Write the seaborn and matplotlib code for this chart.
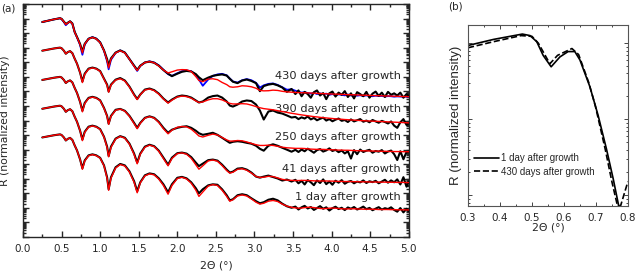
import numpy as np
import pandas as pd
import matplotlib
matplotlib.use('Agg')
import matplotlib.pyplot as plt
import seaborn as sns
from matplotlib.ticker import LogLocator, NullFormatter, MultipleLocator, FormatStrFormatter

sns.set_style('ticks')
plt.rcParams['font.family'] = ['DejaVu Sans']

# ---------------------------------------------------------------- data (a)
# 2Theta grid (deg)
two_theta = [0.25, 0.30, 0.35, 0.40, 0.45, 0.48, 0.50, 0.53, 0.555, 0.58, 0.61, 0.64,
             0.67, 0.70, 0.74, 0.77, 0.80, 0.85, 0.90,
             0.95, 1.00, 1.05, 1.09, 1.11, 1.14, 1.20, 1.26, 1.32, 1.38, 1.44,
             1.48, 1.52, 1.58, 1.64, 1.70, 1.76, 1.82, 1.88, 1.93, 2.00,
             2.06, 2.12, 2.18, 2.24, 2.28, 2.33, 2.40, 2.46,
             2.52, 2.58, 2.64, 2.68, 2.72, 2.78, 2.84, 2.90, 2.96, 3.02,
             3.07, 3.12, 3.18, 3.24, 3.30, 3.36, 3.42, 3.48,
             3.53, 3.57, 3.61, 3.65, 3.69, 3.73, 3.77, 3.81, 3.85, 3.89, 3.93, 3.97,
             4.01, 4.05, 4.09, 4.13, 4.17, 4.21, 4.25, 4.29, 4.33, 4.37, 4.41, 4.45,
             4.49, 4.53, 4.57, 4.61, 4.65, 4.69, 4.73, 4.77, 4.81, 4.85, 4.89, 4.93,
             4.97, 5.00]

samples = ['430 days after growth', '390 days after growth', '250 days after growth',
           '41 days after growth', '1 day after growth']
# vertical shift of each curve (decades)
offset_dec = [-1.23, -3.20, -5.21, -7.19, -9.16]

# log10 of the normalized reflectivity, relative to the start of each curve
meas_430 = [0, 0.06, 0.12, 0.18, 0.23, 0.26, 0.22, 0.03, -0.14, -0.05, 0.05, -0.10,
            -0.68, -1.03, -1.51, -2.03, -1.50, -1.15, -1.05,
            -1.15, -1.40, -1.95, -2.55, -3.00, -2.50, -2.10, -1.95, -2.10, -2.55, -3.00,
            -3.29, -3.00, -2.78, -2.72, -2.80, -3.00, -3.30, -3.55, -3.72, -3.55,
            -3.42, -3.36, -3.40, -3.58, -3.80, -4.00, -3.82, -3.70,
            -3.64, -3.60, -3.68, -3.90, -4.10, -4.20, -4.02, -3.95, -4.05, -4.20,
            -4.75, -4.40, -4.30, -4.25, -4.35, -4.50, -4.80, -4.60,
            -4.95, -4.70, -5.10, -4.80, -4.95, -5.20, -4.82, -4.70, -5.05, -4.88, -5.30, -4.90,
            -4.78, -5.12, -4.85, -5.00, -4.75, -5.15, -4.90, -5.25, -4.82, -4.95, -5.10, -4.80,
            -5.20, -4.92, -4.78, -5.08, -4.85, -5.15, -4.80, -5.00, -4.90, -5.05, -4.85, -5.20,
            -4.95, -5.10]
meas_430_b = [0, 0.06, 0.12, 0.18, 0.23, 0.26, 0.20, 0.00, -0.22, -0.08, 0.04, -0.12,
              -0.70, -1.05, -1.58, -2.25, -1.55, -1.15, -1.04,
              -1.14, -1.40, -1.97, -2.70, -3.25, -2.60, -2.12, -1.95, -2.10, -2.55, -3.02,
              -3.36, -3.02, -2.78, -2.70, -2.78, -2.98, -3.28, -3.58, -3.70, -3.52,
              -3.38, -3.32, -3.38, -3.62, -3.95, -4.38, -3.95, -3.70,
              -3.60, -3.56, -3.66, -3.88, -4.08, -4.16, -4.00, -3.92, -4.00, -4.18,
              -4.50, -4.35, -4.25, -4.22, -4.32, -4.48, -4.65, -4.62,
              -4.72, -4.80, -4.85, -4.82, -4.88, -4.92, -4.86, -4.95, -4.90, -4.96, -4.92, -5.00,
              -4.95, -5.02, -4.97, -5.00, -5.04, -4.98, -5.05, -5.02, -5.06, -5.03, -5.08, -5.04,
              -5.07, -5.10, -5.06, -5.09, -5.08, -5.12, -5.09, -5.10, -5.13, -5.11, -5.12, -5.14,
              -5.12, -5.14]
fit_430 = [0, 0.06, 0.12, 0.18, 0.23, 0.26, 0.21, 0.02, -0.17, -0.07, 0.04, -0.12,
           -0.70, -1.05, -1.55, -2.12, -1.52, -1.16, -1.06,
           -1.16, -1.42, -1.97, -2.65, -3.15, -2.55, -2.12, -1.97, -2.12, -2.56, -3.04,
           -3.33, -3.02, -2.78, -2.72, -2.80, -3.02, -3.30, -3.50, -3.42, -3.30,
           -3.27, -3.28, -3.40, -3.75, -4.02, -4.10, -3.92, -3.90,
           -3.96, -4.15, -4.30, -4.45, -4.48, -4.45, -4.38, -4.40, -4.45, -4.55,
           -4.70, -4.73, -4.72, -4.68, -4.70, -4.76, -4.80, -4.82,
           -4.84, -4.85, -4.86, -4.86, -4.87, -4.88, -4.89, -4.90, -4.91, -4.92, -4.93, -4.94,
           -4.95, -4.95, -4.96, -4.97, -4.98, -4.99, -5.00, -5.00, -5.01, -5.02, -5.03, -5.03,
           -5.04, -5.05, -5.06, -5.06, -5.07, -5.08, -5.08, -5.09, -5.10, -5.10, -5.11, -5.12,
           -5.12, -5.13]

meas_390 = [0, 0.05, 0.10, 0.15, 0.19, 0.21, 0.17, 0.00, -0.21, -0.10, -0.03, -0.17,
            -0.55, -0.89, -1.51, -2.12, -1.58, -1.23, -1.16,
            -1.23, -1.40, -1.92, -2.33, -2.81, -2.33, -1.99, -1.88, -2.05, -2.47, -3.01,
            -3.32, -3.01, -2.67, -2.60, -2.71, -2.95, -3.29, -3.56, -3.36, -3.15,
            -3.08, -3.12, -3.22, -3.42, -3.56, -3.49, -3.22, -3.12,
            -3.08, -3.22, -3.49, -3.77, -3.84, -3.70, -3.49, -3.42, -3.46, -3.70,
            -4.11, -4.73, -4.18, -4.11, -4.25, -4.32, -4.45, -4.59,
            -4.55, -4.70, -4.58, -4.66, -4.52, -4.72, -4.62, -4.78, -4.68, -4.60, -4.80, -4.70,
            -4.85, -4.74, -4.66, -4.82, -4.76, -4.90, -4.72, -4.86, -4.78, -4.70, -4.88, -4.80,
            -4.92, -4.76, -4.86, -4.95, -4.82, -4.90, -5.00, -4.86, -5.15, -5.30, -4.92, -4.70,
            -5.10, -4.98]
fit_390 = [0, 0.05, 0.10, 0.15, 0.19, 0.21, 0.17, 0.00, -0.21, -0.10, -0.03, -0.17,
           -0.55, -0.89, -1.51, -2.19, -1.62, -1.26, -1.18,
           -1.25, -1.42, -1.95, -2.38, -2.85, -2.36, -2.02, -1.92, -2.08, -2.50, -3.05,
           -3.36, -3.02, -2.70, -2.63, -2.74, -2.98, -3.32, -3.60, -3.40, -3.18,
           -3.12, -3.15, -3.26, -3.45, -3.56, -3.52, -3.38, -3.30,
           -3.30, -3.38, -3.52, -3.62, -3.66, -3.66, -3.64, -3.66, -3.74, -3.84,
           -3.92, -3.98, -4.02, -4.06, -4.12, -4.18, -4.24, -4.30,
           -4.34, -4.38, -4.41, -4.44, -4.47, -4.50, -4.53, -4.55, -4.58, -4.60, -4.62, -4.64,
           -4.66, -4.68, -4.70, -4.71, -4.73, -4.74, -4.76, -4.77, -4.78, -4.80, -4.81, -4.82,
           -4.83, -4.84, -4.85, -4.86, -4.87, -4.88, -4.89, -4.90, -4.91, -4.92, -4.93, -4.94,
           -4.95, -4.96]

meas_250 = [0, 0.05, 0.10, 0.15, 0.19, 0.21, 0.17, 0.00, -0.21, -0.10, -0.03, -0.17,
            -0.55, -0.89, -1.51, -2.12, -1.58, -1.23, -1.16,
            -1.23, -1.40, -1.92, -2.47, -3.01, -2.47, -2.05, -1.99, -2.12, -2.47, -2.95,
            -3.29, -2.95, -2.60, -2.50, -2.60, -2.88, -3.29, -3.63, -3.42, -3.29,
            -3.22, -3.18, -3.29, -3.49, -3.66, -3.77, -3.70, -3.63,
            -3.77, -3.97, -4.18, -4.32, -4.25, -4.21, -4.25, -4.32, -4.38, -4.52,
            -4.73, -4.86, -4.52, -4.42, -4.52, -4.66, -4.79, -4.93,
            -4.80, -4.95, -4.78, -4.90, -4.72, -4.86, -5.00, -4.82, -4.75, -4.92, -4.84, -4.70,
            -4.88, -4.80, -4.96, -4.85, -5.05, -4.90, -5.40, -4.82, -5.10, -4.78, -4.95, -4.86,
            -4.80, -5.00, -4.88, -4.93, -4.82, -5.05, -4.92, -4.85, -5.10, -5.50, -4.90, -5.45,
            -4.95, -4.92]
fit_250 = [0, 0.05, 0.10, 0.15, 0.19, 0.21, 0.17, 0.00, -0.21, -0.10, -0.03, -0.17,
           -0.55, -0.89, -1.51, -2.19, -1.62, -1.26, -1.18,
           -1.25, -1.42, -1.95, -2.50, -3.05, -2.50, -2.08, -2.00, -2.14, -2.50, -3.00,
           -3.35, -2.98, -2.62, -2.52, -2.62, -2.92, -3.35, -3.70, -3.45, -3.25,
           -3.20, -3.22, -3.38, -3.65, -3.85, -3.92, -3.80, -3.72,
           -3.78, -3.95, -4.12, -4.20, -4.20, -4.16, -4.18, -4.26, -4.36, -4.45,
           -4.50, -4.50, -4.48, -4.50, -4.56, -4.62, -4.66, -4.68,
           -4.70, -4.70, -4.70, -4.71, -4.73, -4.75, -4.76, -4.77, -4.77, -4.77, -4.78, -4.79,
           -4.80, -4.81, -4.82, -4.82, -4.83, -4.83, -4.84, -4.85, -4.86, -4.86, -4.87, -4.87,
           -4.88, -4.88, -4.89, -4.89, -4.90, -4.90, -4.91, -4.91, -4.92, -4.92, -4.92, -4.93,
           -4.93, -4.93]

meas_41 = [0, 0.05, 0.10, 0.15, 0.19, 0.21, 0.17, 0.00, -0.21, -0.10, -0.03, -0.17,
           -0.55, -0.89, -1.51, -2.12, -1.58, -1.23, -1.16,
           -1.23, -1.40, -1.92, -2.60, -3.25, -2.60, -2.05, -1.88, -1.99, -2.40, -3.08,
           -3.70, -3.08, -2.60, -2.47, -2.57, -2.88, -3.36, -3.84, -3.36, -3.05,
           -3.01, -3.08, -3.32, -3.70, -3.94, -3.77, -3.53, -3.49,
           -3.56, -3.84, -4.18, -4.38, -4.32, -4.11, -4.08, -4.18, -4.38, -4.66,
           -4.73, -4.66, -4.59, -4.69, -4.79, -4.93, -4.86, -5.00,
           -4.88, -5.12, -4.95, -5.20, -4.90, -5.05, -5.25, -4.92, -5.10, -4.85, -5.18, -5.00,
           -5.22, -4.94, -5.08, -4.90, -5.15, -5.02, -4.96, -5.12, -5.00, -5.06, -4.92, -5.10,
           -4.98, -5.04, -4.95, -5.12, -5.00, -4.88, -5.08, -4.92, -5.05, -4.85, -5.20, -4.70,
           -5.35, -5.00]
fit_41 = [0, 0.05, 0.10, 0.15, 0.19, 0.21, 0.17, 0.00, -0.21, -0.10, -0.03, -0.17,
          -0.55, -0.89, -1.51, -2.19, -1.62, -1.26, -1.18,
          -1.25, -1.42, -1.95, -2.66, -3.30, -2.66, -2.08, -1.90, -2.02, -2.44, -3.14,
          -3.78, -3.12, -2.64, -2.50, -2.60, -2.92, -3.42, -3.92, -3.42, -3.08,
          -3.03, -3.12, -3.40, -3.85, -4.15, -3.92, -3.58, -3.52,
          -3.60, -3.90, -4.25, -4.42, -4.36, -4.16, -4.12, -4.22, -4.42, -4.65,
          -4.72, -4.70, -4.64, -4.66, -4.75, -4.85, -4.90, -4.92,
          -4.93, -4.93, -4.92, -4.92, -4.93, -4.94, -4.95, -4.96, -4.96, -4.96, -4.96, -4.97,
          -4.97, -4.98, -4.99, -4.99, -5.00, -5.00, -5.00, -5.01, -5.01, -5.02, -5.02, -5.02,
          -5.03, -5.03, -5.03, -5.04, -5.04, -5.04, -5.05, -5.05, -5.05, -5.06, -5.06, -5.06,
          -5.07, -5.07]

meas_1 = [0, 0.05, 0.10, 0.15, 0.19, 0.21, 0.17, 0.00, -0.21, -0.10, -0.03, -0.17,
          -0.55, -0.89, -1.51, -2.12, -1.58, -1.23, -1.16,
          -1.23, -1.40, -1.92, -2.74, -3.56, -2.74, -2.05, -1.82, -1.92, -2.33, -3.01,
          -3.70, -3.08, -2.60, -2.47, -2.53, -2.81, -3.22, -3.77, -3.22, -2.77,
          -2.71, -2.81, -3.08, -3.49, -3.84, -3.56, -3.29, -3.22,
          -3.25, -3.56, -3.97, -4.32, -4.25, -3.97, -3.90, -3.97, -4.18, -4.38,
          -4.52, -4.45, -4.28, -4.21, -4.32, -4.55, -4.73, -4.83,
          -4.75, -4.95, -4.80, -4.70, -4.88, -4.78, -4.98, -4.85, -4.72, -4.90, -4.80, -5.02,
          -4.86, -4.76, -4.92, -4.83, -4.99, -4.81, -4.90, -4.78, -4.95, -4.87, -4.75, -4.93,
          -4.84, -5.00, -4.89, -4.79, -4.96, -4.86, -4.92, -4.80, -4.98, -5.10, -4.85, -5.15,
          -4.90, -5.05]
fit_1 = [0, 0.05, 0.10, 0.15, 0.19, 0.21, 0.17, 0.00, -0.21, -0.10, -0.03, -0.17,
         -0.55, -0.89, -1.51, -2.19, -1.62, -1.26, -1.18,
         -1.25, -1.42, -1.95, -2.80, -3.63, -2.80, -2.10, -1.86, -1.96, -2.38, -3.08,
         -3.80, -3.12, -2.64, -2.50, -2.57, -2.86, -3.30, -3.90, -3.30, -2.82,
         -2.74, -2.85, -3.14, -3.62, -4.05, -3.75, -3.34, -3.24,
         -3.30, -3.62, -4.05, -4.38, -4.28, -4.02, -3.95, -4.02, -4.22, -4.45,
         -4.58, -4.52, -4.38, -4.33, -4.40, -4.58, -4.72, -4.80,
         -4.84, -4.86, -4.85, -4.82, -4.80, -4.80, -4.82, -4.85, -4.88, -4.89, -4.88, -4.86,
         -4.85, -4.86, -4.88, -4.90, -4.91, -4.91, -4.90, -4.90, -4.91, -4.92, -4.93, -4.93,
         -4.93, -4.93, -4.94, -4.95, -4.95, -4.95, -4.95, -4.96, -4.96, -4.97, -4.97, -4.97,
         -4.98, -4.98]

measured = [meas_430, meas_390, meas_250, meas_41, meas_1]
fits = [fit_430, fit_390, fit_250, fit_41, fit_1]

# ---------------------------------------------------------------- data (b)
tt_1day = [0.30, 0.38, 0.47, 0.494, 0.515, 0.535, 0.56, 0.5875, 0.613, 0.634, 0.65,
           0.681, 0.707, 0.733, 0.754, 0.77, 0.78]
r_1day = [-0.03, 0.05, 0.12, 0.10, 0.02, -0.16, -0.31, -0.18, -0.11, -0.11, -0.22,
          -0.57, -0.95, -1.39, -1.78, -2.11, -2.40]
tt_430 = [0.30, 0.38, 0.466, 0.50, 0.52, 0.556, 0.58, 0.625, 0.646, 0.677, 0.698,
          0.729, 0.75, 0.766, 0.777, 0.80]
r_430 = [-0.06, 0.02, 0.10, 0.09, 0.00, -0.27, -0.16, -0.07, -0.15, -0.51, -0.82,
         -1.39, -1.82, -2.11, -2.14, -1.82]

for m, f in zip(measured + [meas_430_b], fits + [fit_430]):
    assert len(m) == len(two_theta) and len(f) == len(two_theta), (len(m), len(f))

# ---------------------------------------------------------------- figure
fig = plt.figure(figsize=(6.42, 2.74), dpi=100)
ax = fig.add_axes([0.0358, 0.135, 0.601, 0.850])
axb = fig.add_axes([0.729, 0.248, 0.249, 0.661])

x = np.array(two_theta)
for i, name in enumerate(samples):
    shift = offset_dec[i]
    if i == 0:
        sns.lineplot(x=x, y=10 ** (np.array(meas_430_b) + shift), ax=ax, color='blue',
                     lw=1.3, estimator=None, sort=False, zorder=2)
    sns.lineplot(x=x, y=10 ** (np.array(measured[i]) + shift), ax=ax, color='black',
                 lw=1.5, estimator=None, sort=False, zorder=3)
    sns.lineplot(x=x, y=10 ** (np.array(fits[i]) + shift), ax=ax, color='red',
                 lw=1.0, estimator=None, sort=False, zorder=4)

label_dec = [-4.93, -7.19, -9.14, -11.30, -13.22]
for name, yd in zip(samples, label_dec):
    ax.text(4.9, 10 ** yd, name, ha='right', va='center', fontsize=8.2)

ax.set_yscale('log')
ax.set_xlim(0, 5)
ax.set_ylim(1e-16, 1e0)
ax.xaxis.set_major_locator(MultipleLocator(0.5))
ax.xaxis.set_minor_locator(MultipleLocator(0.25))
ax.xaxis.set_major_formatter(FormatStrFormatter('%.1f'))
ax.yaxis.set_major_locator(LogLocator(base=10, numticks=100))
ax.yaxis.set_minor_locator(LogLocator(base=10, subs=np.arange(2, 10) * 1.0, numticks=100))
ax.yaxis.set_major_formatter(NullFormatter())
ax.yaxis.set_minor_formatter(NullFormatter())
ax.tick_params(which='both', direction='in', top=True, right=True, labelsize=7.5,
               width=1.0, pad=5)
ax.tick_params(which='major', length=4)
ax.tick_params(which='minor', length=2)
ax.set_xlabel('2Θ (°)', fontsize=7.8, labelpad=5)
ax.set_ylabel('R (normalized intensity)', fontsize=7.8, labelpad=4)
for s in ax.spines.values():
    s.set_linewidth(1.0)
fig.text(0.002, 0.97, '(a)', fontsize=7.5, va='center')

# panel (b)
sns.lineplot(x=tt_1day, y=10 ** np.array(r_1day), ax=axb, color='black', lw=1.2,
             estimator=None, sort=False, label='1 day after growth')
sns.lineplot(x=tt_430, y=10 ** np.array(r_430), ax=axb, color='black', lw=1.2,
             linestyle='--', estimator=None, sort=False, label='430 days after growth')
axb.set_yscale('log')
axb.set_xlim(0.3, 0.8)
axb.set_ylim(10 ** -2.14, 10 ** 0.24)
axb.xaxis.set_major_locator(MultipleLocator(0.1))
axb.xaxis.set_minor_locator(MultipleLocator(0.05))
axb.xaxis.set_major_formatter(FormatStrFormatter('%.1f'))
axb.yaxis.set_major_locator(LogLocator(base=10, numticks=100))
axb.yaxis.set_minor_locator(LogLocator(base=10, subs=np.arange(2, 10) * 1.0, numticks=100))
axb.yaxis.set_major_formatter(NullFormatter())
axb.yaxis.set_minor_formatter(NullFormatter())
axb.tick_params(which='both', direction='in', top=True, right=True, labelsize=7.5,
                width=0.6, pad=5)
axb.tick_params(which='major', length=3)
axb.tick_params(which='minor', length=1.5)
for s in axb.spines.values():
    s.set_linewidth(0.8)
    s.set_color('#555555')
axb.set_xlabel('2Θ (°)', fontsize=7.8, labelpad=0)
axb.set_ylabel('R (normalized intensity)', fontsize=9.5, labelpad=-1,
               family=['Liberation Sans'])
axb.legend(loc='lower left', bbox_to_anchor=(0.0, 0.13), frameon=False,
           prop={'family': 'Liberation Sans', 'size': 7}, handlelength=2.6,
           handletextpad=0.2, labelspacing=0.35, borderaxespad=0.2)
fig.text(0.698, 0.975, '(b)', fontsize=7.5, va='center')

fig.savefig('out.png', dpi=100)
